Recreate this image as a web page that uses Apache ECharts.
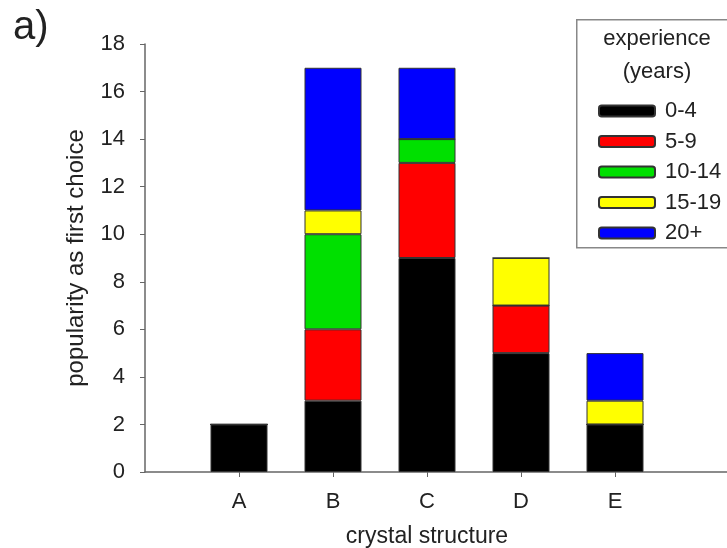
<!DOCTYPE html>
<html><head><meta charset="utf-8">
<script src="https://cdn.jsdelivr.net/npm/echarts@6/dist/echarts.min.js"></script>
<style>html,body{margin:0;padding:0;background:#fff}#c{width:727px;height:548px}</style>
</head><body><div id="c"></div>
<script>
const categories = ['', 'A', 'B', 'C', 'D', 'E', '', ''];
const groups = ['0-4', '5-9', '10-14', '15-19', '20+'];
const colors = ['#000000', '#ff0000', '#00e000', '#ffff00', '#0000ff'];
const v0_4   = [null, 2, 3, 9, 5, 2, null, null];
const v5_9   = [null, 0, 3, 4, 2, 0, null, null];
const v10_14 = [null, 0, 4, 1, 0, 0, null, null];
const v15_19 = [null, 0, 1, 0, 2, 1, null, null];
const v20    = [null, 0, 6, 3, 0, 2, null, null];
const yTicks = [0, 2, 4, 6, 8, 10, 12, 14, 16, 18];
const values = [v0_4, v5_9, v10_14, v15_19, v20];

const font = '"Liberation Sans", Arial, sans-serif';
const chart = echarts.init(document.getElementById('c'));
chart.setOption({
  animation: false,
  textStyle: { fontFamily: font },
  grid: { left: 145, right: -76, top: 44, bottom: 76, containLabel: false, outerBoundsMode: 'none' },
  xAxis: {
    type: 'category', data: categories, boundaryGap: false,
    axisLine: { lineStyle: { color: '#666', width: 1.5 } },
    axisTick: { length: 5, lineStyle: { color: '#666' }, interval: (i, v) => v !== '' },
    axisLabel: { fontSize: 22, color: '#222', margin: 19, interval: (i, v) => v !== '' },
    splitLine: { show: false }
  },
  yAxis: {
    type: 'value', min: yTicks[0], max: yTicks[yTicks.length - 1], interval: 2,
    name: 'popularity as first choice', nameLocation: 'middle', nameGap: 57,
    nameTextStyle: { fontSize: 24, color: '#222', fontFamily: font },
    axisLine: { show: true, lineStyle: { color: '#666', width: 1.5 } },
    axisTick: { show: true, length: 5, lineStyle: { color: '#666' } },
    axisLabel: { fontSize: 22, color: '#222', margin: 20 },
    splitLine: { show: false }
  },
  legend: {
    orient: 'vertical', left: 593, top: 95, itemWidth: 56, itemHeight: 11, itemGap: 8.5,
    textStyle: { fontSize: 22, lineHeight: 22, color: '#222', padding: [0, 0, 0, 5] },
    data: groups, selectedMode: false
  },
  graphic: [
    { type: 'rect', left: 576, top: 19, shape: { width: 170, height: 228 },
      style: { fill: '#fff', stroke: '#888', lineWidth: 1.5 }, z: -1 },
    { type: 'text', left: 13, top: 8, style: { text: 'a)', font: '40px ' + font, fill: '#222' } },
    { type: 'text', x: 657, y: 39, style: { text: 'experience', font: '22px ' + font, fill: '#222', align: 'center', verticalAlign: 'middle' } },
    { type: 'text', x: 657, y: 72, style: { text: '(years)', font: '22px ' + font, fill: '#222', align: 'center', verticalAlign: 'middle' } },
    { type: 'text', x: 427, y: 525, style: { text: 'crystal structure', font: '23px ' + font, fill: '#222', align: 'center', verticalAlign: 'top' } }
  ],
  series: groups.map((g, i) => ({
    name: g, type: 'bar', stack: 'total', barWidth: 57,
    data: values[i],
    itemStyle: { color: colors[i], borderColor: '#333', borderWidth: 1 }
  }))
});
</script></body></html>
